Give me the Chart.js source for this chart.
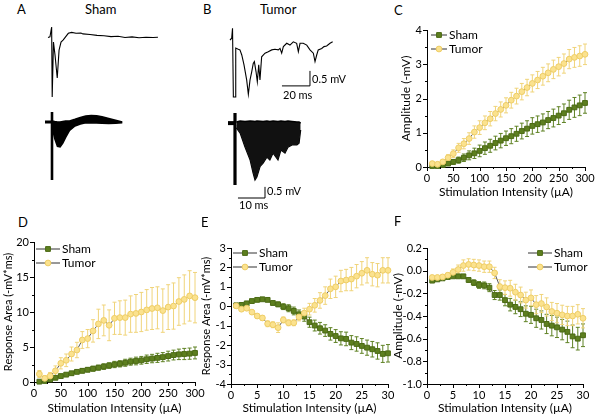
<!DOCTYPE html>
<html lang="en">
<head>
<meta charset="UTF-8">
<title>Sham vs Tumor field potentials</title>
<script src="https://cdn.jsdelivr.net/npm/chart.js@4.4.0/dist/chart.umd.min.js"></script>
<style>
  body { margin: 0; background: #fff; }
  #fig { position: relative; width: 603px; height: 419px; overflow: hidden; font-family: Lato, "Open Sans", sans-serif; color: #000; }
  #fig canvas { position: absolute; }
  .lbl { position: absolute; font-size: 13px; line-height: 1; white-space: nowrap; }
  .bar { position: absolute; font-size: 11px; line-height: 1; white-space: nowrap; }
</style>
</head>
<body>
<div id="fig">
  <canvas id="aTop"></canvas>
  <canvas id="aBot"></canvas>
  <canvas id="bTop"></canvas>
  <canvas id="bBot"></canvas>
  <canvas id="panelD"></canvas>
  <canvas id="panelE"></canvas>
  <canvas id="panelC"></canvas>
  <canvas id="panelF"></canvas>

  <div class="lbl" style="left:17px;top:3px">A</div>
  <div class="lbl" style="left:85px;top:3px">Sham</div>
  <div class="lbl" style="left:203px;top:3px">B</div>
  <div class="lbl" style="left:260px;top:3px">Tumor</div>
  <div class="lbl" style="left:394px;top:4px">C</div>
  <div class="lbl" style="left:18px;top:216px">D</div>
  <div class="lbl" style="left:201px;top:216px">E</div>
  <div class="lbl" style="left:394px;top:215px">F</div>
  <div class="bar" style="left:312px;top:73px">0.5 mV</div>
  <div class="bar" style="left:283px;top:89px">20 ms</div>
  <div class="bar" style="left:267px;top:185px">0.5 mV</div>
  <div class="bar" style="left:239px;top:199px">10 ms</div>
</div>

<script>
// ---- data ----
const stim300 = [10,20,30,40,50,60,70,80,90,100,110,120,130,140,150,160,170,180,190,200,210,220,230,240,250,260,270,280,290,300];
const stim30 = [1,2,3,4,5,6,7,8,9,10,11,12,13,14,15,16,17,18,19,20,21,22,23,24,25,26,27,28,29,30];

// C: amplitude (-mV) vs intensity 0-300 uA
const shamAmpC = [0.03,0.03,0.06,0.1,0.15,0.2,0.27,0.34,0.4,0.47,0.55,0.62,0.7,0.77,0.84,0.9,0.97,1.05,1.12,1.2,1.25,1.3,1.37,1.43,1.5,1.57,1.67,1.74,1.8,1.87];
const shamAmpCErr = [0.02,0.03,0.04,0.05,0.07,0.09,0.11,0.13,0.15,0.17,0.18,0.19,0.2,0.21,0.21,0.22,0.22,0.23,0.23,0.24,0.24,0.25,0.25,0.26,0.26,0.27,0.28,0.29,0.3,0.3];
const tumorAmpC = [0.1,0.08,0.15,0.27,0.39,0.56,0.68,0.83,1.02,1.15,1.29,1.41,1.56,1.68,1.8,1.95,2.07,2.2,2.32,2.44,2.54,2.65,2.75,2.85,2.93,3.02,3.15,3.2,3.24,3.29];
const tumorAmpCErr = [0.04,0.05,0.07,0.09,0.11,0.13,0.15,0.17,0.18,0.2,0.2,0.21,0.21,0.22,0.22,0.23,0.23,0.24,0.24,0.25,0.25,0.26,0.26,0.27,0.27,0.28,0.28,0.29,0.3,0.3];

// D: response area (-mV*ms) vs intensity 0-300 uA
const shamAreaD = [0.05,0.15,0.35,0.6,0.85,1.05,1.25,1.45,1.6,1.75,1.9,2.05,2.2,2.35,2.5,2.6,2.75,2.9,3.0,3.1,3.25,3.35,3.45,3.55,3.7,3.85,3.95,4.0,4.05,4.15];
const shamAreaDErr = [0.1,0.1,0.15,0.15,0.2,0.2,0.25,0.25,0.3,0.3,0.35,0.35,0.4,0.4,0.45,0.45,0.5,0.5,0.55,0.55,0.6,0.6,0.65,0.65,0.7,0.7,0.75,0.8,0.8,0.85];
const tumorAreaD = [1.14,0.52,0.86,1.6,2.67,3.1,4.0,4.57,6.0,6.2,7.3,8.3,8.8,8.1,9.1,9.2,9.2,9.7,9.8,10.0,10.3,10.5,10.6,10.2,10.7,10.85,11.5,11.8,12.3,12.05];
const tumorAreaDErr = [0.5,0.4,0.5,0.7,0.8,0.9,1.0,1.1,1.2,1.3,1.6,2.1,2.2,2.2,2.3,2.4,2.5,2.6,2.7,2.8,2.9,3.0,3.0,3.1,3.2,3.3,3.4,3.5,3.6,3.6];

// E: response area (-mV*ms) vs intensity 0-30 uA
const shamAreaE = [0.05,0.07,0.15,0.27,0.33,0.36,0.33,0.17,0.1,-0.02,-0.1,-0.24,-0.41,-0.53,-0.82,-0.99,-1.13,-1.25,-1.42,-1.53,-1.65,-1.68,-1.87,-1.94,-2.04,-2.13,-2.21,-2.3,-2.45,-2.42];
const shamAreaEErr = [0.03,0.03,0.04,0.05,0.05,0.05,0.06,0.1,0.12,0.15,0.18,0.2,0.22,0.24,0.26,0.28,0.3,0.3,0.32,0.33,0.34,0.35,0.36,0.37,0.38,0.39,0.4,0.42,0.44,0.45];
const tumorAreaE = [0.02,-0.15,-0.1,-0.3,-0.5,-0.6,-0.9,-0.95,-1.1,-0.7,-0.85,-0.85,-0.55,-0.35,-0.15,0.05,0.3,0.55,0.9,1.0,1.3,1.35,1.4,1.55,1.7,1.85,1.65,1.6,1.85,1.85];
const tumorAreaEErr = [0.05,0.08,0.1,0.1,0.12,0.12,0.15,0.15,0.25,0.15,0.15,0.15,0.2,0.25,0.3,0.35,0.4,0.45,0.5,0.55,0.55,0.55,0.6,0.6,0.6,0.65,0.6,0.6,0.65,0.65];

// F: amplitude (-mV) vs intensity 0-30 uA
const shamAmpF = [-0.088,-0.077,-0.068,-0.056,-0.05,-0.05,-0.05,-0.082,-0.106,-0.126,-0.13,-0.15,-0.215,-0.215,-0.26,-0.3,-0.32,-0.34,-0.38,-0.39,-0.42,-0.435,-0.47,-0.485,-0.5,-0.52,-0.54,-0.58,-0.6,-0.57];
const shamAmpFErr = [0.01,0.01,0.01,0.01,0.01,0.01,0.015,0.02,0.025,0.03,0.03,0.035,0.04,0.045,0.05,0.055,0.06,0.065,0.07,0.075,0.08,0.08,0.085,0.09,0.09,0.09,0.095,0.1,0.1,0.1];
const tumorAmpF = [-0.06,-0.06,-0.055,-0.04,-0.015,0.01,0.045,0.055,0.05,0.045,0.035,0.035,-0.02,-0.14,-0.15,-0.155,-0.19,-0.215,-0.26,-0.24,-0.3,-0.29,-0.32,-0.36,-0.375,-0.39,-0.4,-0.4,-0.385,-0.42];
const tumorAmpFErr = [0.015,0.015,0.02,0.02,0.03,0.04,0.05,0.05,0.05,0.05,0.05,0.05,0.05,0.06,0.06,0.07,0.07,0.07,0.07,0.07,0.08,0.08,0.08,0.08,0.085,0.085,0.085,0.085,0.085,0.085];

// example traces (ms, mV)
const shamTraceT = [0,1.4,2.6,3.0,3.9,5.0,6.6,7.9,9.3,10.9,14.5,16.9,20,23.5,25,30,35,40,45,50,55,60,65,70,75,78.5];
const shamTraceV = [0,0.02,0.35,-1.98,-0.15,-0.58,-1.35,-0.42,-0.15,-0.08,0.14,0.17,0.14,0.15,0.12,0.1,0.07,0.06,0.03,0.04,0,0.02,-0.01,0.01,0,0.01];
const tumorTraceT = [0,1.2,1.8,2.4,3.6,4.1,5.9,7.1,8.4,10,11.9,13.1,14.3,15.5,16.6,17.4,18.6,19.5,20.5,21.4,22.6,25,27.3,29.8,32.1,34.5,35.7,36.9,38.1,40.5,42.8,45.2,47.6,48.8,50,52.3,54.8,57.1,59.5,60.7,61.9,63,65.5,67.1,69,71.4,73.3];
const tumorTraceV = [0,0.06,0.39,-1.9,-1.9,-0.27,-0.31,-0.33,-0.5,-0.83,-1.33,-1.81,-1.33,-1.06,-0.78,-0.72,-1.06,-1.39,-0.83,-1.33,-0.56,-0.44,-0.39,-0.33,-0.31,-0.33,-0.28,-0.44,-0.22,-0.11,-0.17,-0.06,-0.11,-0.39,-0.11,-0.11,-0.17,-0.33,-0.44,-0.72,-0.5,-0.33,-0.28,-0.22,-0.2,-0.11,-0.06];

// overlaid family of traces, drawn as envelopes (ms, mV)
const shamFamT = [0,1,2,3,4,5,6.5,8.5,10.5,12.5,14.5,16.5,18.5,21,23.5,26];
const shamFamTop = [0.05,0.02,0,0,0.02,0.04,0.05,0.12,0.2,0.27,0.29,0.28,0.24,0.16,0.08,0];
const shamFamBottom = [-0.2,-0.75,-1.1,-1.12,-0.95,-0.7,-0.38,-0.18,-0.09,-0.04,-0.03,-0.05,-0.06,-0.07,-0.06,-0.03];
const tumorFamT = [0.5,1.9,3.7,5.6,6.7,7.4,8.1,9.3,10.4,11.8,12.9,14.1,15.9,17.0,18.5,19.6,21.1,22.9,23.7,24.3];
const tumorFamTop = [0,0.04,0.02,0.04,0.03,0.02,0.04,0.03,0.02,0.04,0.02,0.04,0.02,0.04,0.02,0.04,0.02,0,0,-0.05];
const tumorFamBottom = [-0.27,-0.5,-1.13,-1.71,-2.3,-2.61,-2.48,-2.0,-1.85,-1.58,-1.71,-1.4,-1.71,-1.26,-1.4,-1.13,-1.03,-1.03,-0.95,-0.36];
const tumorFamMid1 = [-0.1,-0.2,-0.45,-0.7,-0.9,-1.0,-0.95,-0.8,-0.75,-0.65,-0.7,-0.55,-0.7,-0.5,-0.55,-0.45,-0.4,-0.4,-0.35,-0.15];
const tumorFamMid2 = [-0.18,-0.35,-0.8,-1.2,-1.6,-1.8,-1.7,-1.4,-1.3,-1.1,-1.2,-1.0,-1.2,-0.9,-1.0,-0.8,-0.72,-0.72,-0.66,-0.25];
const tumorFamMid3 = [-0.05,-0.1,-0.25,-0.4,-0.5,-0.55,-0.5,-0.45,-0.4,-0.35,-0.4,-0.3,-0.35,-0.28,-0.3,-0.25,-0.22,-0.2,-0.18,-0.08];

// colours
const GREEN = '#5d7f1f', GREEN_EDGE = '#4b6a14', GREEN_BAR = '#5f8224';
const YELLOW = '#fbe28e', YELLOW_EDGE = '#eecd66', YELLOW_BAR = '#f0d47a';
const JOIN = '#333';

Chart.defaults.font.family = 'Lato, "Open Sans", sans-serif';
Chart.defaults.color = '#000';

function place(id, box) {
  const c = document.getElementById(id);
  c.width = box.width; c.height = box.height;
  c.style.left = box.left + 'px'; c.style.top = box.top + 'px';
  return c;
}
const pairs = (xs, ys) => xs.map((x, i) => ({ x, y: ys[i] }));
const near = (v, step) => Math.abs(v / step - Math.round(v / step)) < 1e-6;

// error bars with caps
const errorBars = {
  id: 'errorBars',
  beforeDatasetsDraw(chart) {
    const { ctx, scales: { x, y } } = chart;
    ctx.save();
    ctx.lineWidth = 1;
    chart.data.datasets.forEach(ds => {
      ctx.strokeStyle = ds.errColor;
      ds.data.forEach((p, i) => {
        const e = ds.errors[i];
        const px = x.getPixelForValue(p.x);
        const hi = y.getPixelForValue(p.y + e), lo = y.getPixelForValue(p.y - e);
        ctx.beginPath();
        ctx.moveTo(px, hi); ctx.lineTo(px, lo);
        ctx.moveTo(px - 2, hi); ctx.lineTo(px + 2, hi);
        ctx.moveTo(px - 2, lo); ctx.lineTo(px + 2, lo);
        ctx.stroke();
      });
    });
    ctx.restore();
  }
};

// major / minor tick marks
const tickMarks = {
  id: 'tickMarks',
  afterDraw(chart, args, opts) {
    const ctx = chart.ctx;
    ctx.save();
    ctx.strokeStyle = '#000'; ctx.lineWidth = 1;
    ['x', 'y'].forEach(id => {
      const s = chart.scales[id];
      s.ticks.forEach(t => {
        const len = near(t.value, opts[id]) ? 4 : 2;
        const p = Math.round(s.getPixelForValue(t.value)) + 0.5;
        ctx.beginPath();
        if (id === 'x') { ctx.moveTo(p, s.top); ctx.lineTo(p, s.top + len); }
        else { ctx.moveTo(s.right, p); ctx.lineTo(s.right - len, p); }
        ctx.stroke();
      });
    });
    ctx.restore();
  }
};

// legend: line with marker, then label
const lineLegend = {
  id: 'lineLegend',
  afterDraw(chart, args, o) {
    const ctx = chart.ctx;
    ctx.save();
    ctx.font = '12px Lato, "Open Sans", sans-serif';
    ctx.textBaseline = 'middle';
    chart.data.datasets.forEach((ds, i) => {
      const yy = o.rows[i], cx = (o.x0 + o.x1) / 2;
      ctx.strokeStyle = JOIN; ctx.lineWidth = 1;
      ctx.beginPath(); ctx.moveTo(o.x0, yy); ctx.lineTo(o.x1, yy); ctx.stroke();
      ctx.fillStyle = ds.pointBackgroundColor; ctx.strokeStyle = ds.pointBorderColor;
      ctx.beginPath();
      if (ds.pointStyle === 'rect') {
        const s = ds.pointRadius * Math.SQRT1_2;
        ctx.rect(cx - s, yy - s, 2 * s, 2 * s);
      } else {
        ctx.arc(cx, yy, ds.pointRadius, 0, Math.PI * 2);
      }
      ctx.fill(); ctx.stroke();
      ctx.fillStyle = '#000';
      ctx.fillText(ds.label, o.tx, yy + 0.5);
    });
    ctx.restore();
  }
};

function statPanel(id, box, plot, ax, legend) {
  const cv = place(id, box);
  const yt = ax.yTitleSize || 12, xt = 12;
  const lhY = yt * 1.2, lhX = xt * 1.2;
  const zeroPad = s => { s.paddingLeft = 0; s.paddingRight = 0; s.paddingTop = 0; s.paddingBottom = 0; };
  const series = [
    { label: 'Sham', data: pairs(ax.x, ax.sham), errors: ax.shamErr, errColor: GREEN_BAR,
      pointStyle: 'rect', pointRadius: 3.4, pointBackgroundColor: GREEN, pointBorderColor: GREEN_EDGE, order: 1 },
    { label: 'Tumor', data: pairs(ax.x, ax.tumor), errors: ax.tumorErr, errColor: YELLOW_BAR,
      pointStyle: 'circle', pointRadius: 2.9, pointBackgroundColor: YELLOW, pointBorderColor: YELLOW_EDGE, order: 0 }
  ].map(d => Object.assign(d, { borderColor: JOIN, borderWidth: 0.8, pointBorderWidth: 1, clip: false, tension: 0 }));

  new Chart(cv, {
    type: 'line',
    data: { datasets: series },
    plugins: [errorBars, tickMarks, lineLegend],
    options: {
      responsive: false, animation: false, devicePixelRatio: 1,
      layout: { padding: { left: 0, top: plot.top - box.top, right: box.left + box.width - plot.right, bottom: 0 } },
      plugins: {
        legend: { display: false }, tooltip: { enabled: false },
        tickMarks: { x: ax.xMajor, y: ax.yMajor },
        lineLegend: { x0: legend.x0 - box.left, x1: legend.x1 - box.left, tx: legend.tx - box.left,
                      rows: legend.rows.map(r => r - box.top) }
      },
      scales: {
        x: {
          type: 'linear', min: ax.xMin, max: ax.xMax,
          border: { color: '#000', width: 1 },
          grid: { drawOnChartArea: false, drawTicks: false },
          ticks: { stepSize: ax.xMinor, autoSkip: false, maxRotation: 0, padding: 5, font: { size: 11 },
                   callback: v => near(v, ax.xMajor) ? String(Math.round(v)) : '' },
          title: { display: true, text: 'Stimulation Intensity (\u00b5A)', font: { size: xt },
                   padding: { top: 0, bottom: Math.max(0, box.top + box.height - ax.xTitleY - lhX / 2) } },
          afterFit: s => { s.height = box.top + box.height - plot.bottom; zeroPad(s); }
        },
        y: {
          type: 'linear', min: ax.yMin, max: ax.yMax,
          border: { color: '#000', width: 1 },
          grid: { drawOnChartArea: false, drawTicks: false },
          ticks: { stepSize: ax.yMinor, autoSkip: false, padding: 5, font: { size: 11 },
                   callback: v => near(v, ax.yMajor) ? ax.fmt(v) : '' },
          title: { display: true, text: ax.yTitle, font: { size: yt },
                   padding: { top: Math.max(0, ax.yTitleX - box.left - lhY / 2), bottom: 0 } },
          afterFit: s => { s.width = plot.left - box.left; zeroPad(s); }
        }
      }
    }
  });
}

function tracePanel(id, box, origin, msPerPx, mVPerPx, datasets) {
  const cv = place(id, box);
  new Chart(cv, {
    type: 'line',
    data: { datasets },
    options: {
      responsive: false, animation: false, devicePixelRatio: 1,
      layout: { padding: 0 },
      plugins: { legend: { display: false }, tooltip: { enabled: false } },
      elements: { point: { radius: 0 }, line: { tension: 0, borderColor: '#000', borderWidth: 1 } },
      scales: {
        x: { type: 'linear', display: false,
             min: (box.left - origin.x) * msPerPx, max: (box.left + box.width - origin.x) * msPerPx },
        y: { type: 'linear', display: false,
             max: (origin.y - box.top) * mVPerPx, min: (origin.y - box.top - box.height) * mVPerPx }
      }
    }
  });
}
const line = (t, v, w, c) => ({ data: pairs(t, v), borderColor: c || '#000', borderWidth: w || 1, fill: false });

// ---- A & B example traces ----
tracePanel('aTop', { left: 40, top: 20, width: 125, height: 85 }, { x: 48, y: 37.5 }, 0.714, 1 / 30, [
  line(shamTraceT, shamTraceV, 1.1)
]);
tracePanel('aBot', { left: 40, top: 105, width: 95, height: 80 }, { x: 52, y: 122 }, 0.37, 0.045, [
  Object.assign(line(shamFamT, shamFamTop, 1.5), { fill: '+1', backgroundColor: '#000' }),
  line(shamFamT, shamFamBottom, 1.5),
  line([0, 0], [0.45, -2.61], 2.6),
  line([-2.6, 0], [0, 0], 3)
]);
tracePanel('bTop', { left: 222, top: 20, width: 130, height: 85 }, { x: 230, y: 40 }, 0.714, 1 / 30, [
  line(tumorTraceT, tumorTraceV, 1.1),
  line([37.1, 57.1, 57.1], [-1.53, -1.53, -1.03], 1)
]);
tracePanel('bBot', { left: 225, top: 105, width: 80, height: 100 }, { x: 235, y: 122 }, 0.37, 0.045, [
  Object.assign(line(tumorFamT, tumorFamTop, 1.5), { fill: '+1', backgroundColor: '#111' }),
  line(tumorFamT, tumorFamBottom, 1.2),
  line(tumorFamT, tumorFamMid3, 0.6, 'rgba(255,255,255,0.6)'),
  line(tumorFamT, tumorFamMid1, 0.7, 'rgba(255,255,255,0.75)'),
  line(tumorFamT, tumorFamMid2, 0.6, 'rgba(255,255,255,0.6)'),
  line([0, 0], [0.4, -2.84], 3.2),
  line([-2.6, 0], [-0.05, -0.05], 4),
  line([1.1, 11.1, 11.1], [-3.42, -3.42, -2.92], 1)
]);

// ---- C, D, E, F ----
const fmtInt = v => String(Math.round(v));
statPanel('panelC', { left: 395, top: 22, width: 208, height: 182 }, { left: 427, top: 30, right: 585, bottom: 167 },
  { x: stim300, sham: shamAmpC, shamErr: shamAmpCErr, tumor: tumorAmpC, tumorErr: tumorAmpCErr,
    xMin: 0, xMax: 300, xMajor: 50, xMinor: 25, yMin: 0, yMax: 4, yMajor: 1, yMinor: 0.5, fmt: fmtInt,
    yTitle: 'Amplitude (-mV)', yTitleX: 406, xTitleY: 192 },
  { x0: 431, x1: 447, tx: 449, rows: [35, 49] });

statPanel('panelD', { left: 0, top: 232, width: 205, height: 187 }, { left: 34, top: 242, right: 195, bottom: 382 },
  { x: stim300, sham: shamAreaD, shamErr: shamAreaDErr, tumor: tumorAreaD, tumorErr: tumorAreaDErr,
    xMin: 0, xMax: 300, xMajor: 50, xMinor: 25, yMin: 0, yMax: 20, yMajor: 5, yMinor: 2.5, fmt: fmtInt,
    yTitle: 'Response Area (-mV*ms)', yTitleSize: 11, yTitleX: 8, xTitleY: 408 },
  { x0: 36, x1: 60, tx: 62, rows: [249, 263] });

statPanel('panelE', { left: 200, top: 232, width: 200, height: 187 }, { left: 231, top: 248, right: 388, bottom: 384 },
  { x: stim30, sham: shamAreaE, shamErr: shamAreaEErr, tumor: tumorAreaE, tumorErr: tumorAreaEErr,
    xMin: 0, xMax: 30, xMajor: 5, xMinor: 2.5, yMin: -4, yMax: 3, yMajor: 1, yMinor: 0.5, fmt: fmtInt,
    yTitle: 'Response Area (-mV*ms)', yTitleSize: 11, yTitleX: 206, xTitleY: 408 },
  { x0: 233, x1: 257, tx: 259, rows: [253, 267] });

statPanel('panelF', { left: 388, top: 232, width: 215, height: 187 }, { left: 427, top: 248, right: 583, bottom: 384 },
  { x: stim30, sham: shamAmpF, shamErr: shamAmpFErr, tumor: tumorAmpF, tumorErr: tumorAmpFErr,
    xMin: 0, xMax: 30, xMajor: 5, xMinor: 2.5, yMin: -1, yMax: 0.2, yMajor: 0.2, yMinor: 0.1,
    fmt: v => (Math.abs(v) < 1e-9 ? 0 : v).toFixed(1),
    yTitle: 'Amplitude (-mV)', yTitleX: 398, xTitleY: 408 },
  { x0: 528, x1: 552, tx: 554, rows: [253, 267] });
</script>
</body>
</html>
